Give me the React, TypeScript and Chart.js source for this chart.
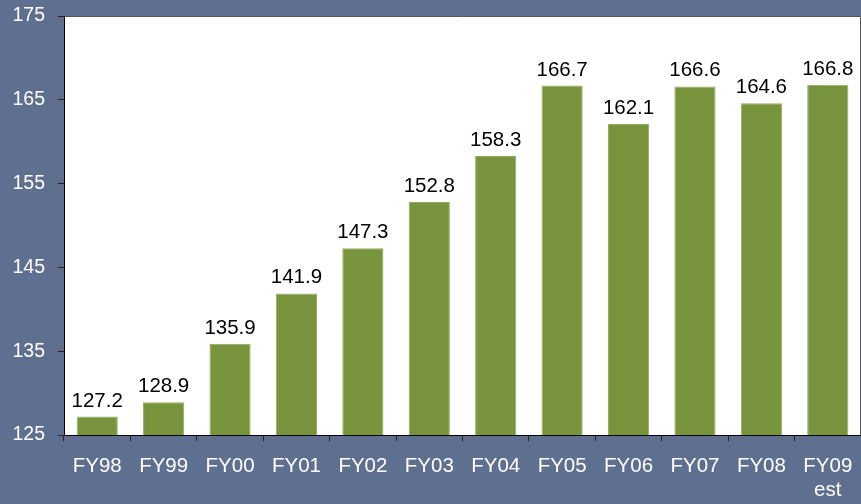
import React, { useEffect, useRef } from "react";
import { Chart, registerables } from "chart.js";

Chart.register(...registerables);

const categories: (string | string[])[] = ["FY98", "FY99", "FY00", "FY01", "FY02", "FY03", "FY04", "FY05", "FY06", "FY07", "FY08", ["FY09", "est"]];
const values: number[] = [127.2, 128.9, 135.9, 141.9, 147.3, 152.8, 158.3, 166.7, 162.1, 166.6, 164.6, 166.8];
const yTicks: number[] = [125, 135, 145, 155, 165, 175];

const BG = "#5F6F8F";

const bgPlugin = {
  id: "bgPlugin",
  beforeDraw(chart: any) {
    const { ctx, width, height, chartArea } = chart;
    ctx.save();
    ctx.fillStyle = BG;
    ctx.fillRect(0, 0, width, height);
    ctx.fillStyle = "#FFFFFF";
    ctx.fillRect(chartArea.left, chartArea.top, chartArea.right - chartArea.left, chartArea.bottom - chartArea.top);
    ctx.strokeStyle = "#555555";
    ctx.lineWidth = 1;
    ctx.beginPath();
    ctx.moveTo(chartArea.left, chartArea.top + 0.5);
    ctx.lineTo(chartArea.right - 0.5, chartArea.top + 0.5);
    ctx.lineTo(chartArea.right - 0.5, chartArea.bottom);
    ctx.stroke();
    ctx.restore();
  },
};

const labelPlugin = {
  id: "labelPlugin",
  afterDatasetsDraw(chart: any) {
    const { ctx } = chart;
    const meta = chart.getDatasetMeta(0);
    ctx.save();
    ctx.fillStyle = "#000000";
    ctx.font = "20.5px Arial, 'Liberation Sans', sans-serif";
    ctx.textAlign = "center";
    ctx.textBaseline = "alphabetic";
    meta.data.forEach((el: any, i: number) => {
      ctx.fillText(values[i].toFixed(1), el.x, el.y - 10);
    });
    ctx.restore();
  },
};

export default function App() {
  const ref = useRef<HTMLCanvasElement | null>(null);
  useEffect(() => {
    if (!ref.current) return;
    const chart = new Chart(ref.current, {
      type: "bar",
      data: {
        labels: categories as any,
        datasets: [
          {
            data: values,
            backgroundColor: "#77933C",
            borderColor: "#93AC62",
            borderWidth: 1,
            barPercentage: 0.62,
            categoryPercentage: 1,
          },
        ],
      },
      options: {
        responsive: false,
        animation: false,
        layout: { padding: { top: 16, right: 0, left: 0, bottom: 0 } },
        plugins: { legend: { display: false }, tooltip: { enabled: false } },
        scales: {
          x: {
            grid: { drawOnChartArea: false, drawTicks: true, tickLength: 6, color: "#222222" },
            border: { display: true, color: "#000000", width: 1 },
            ticks: {
              color: "#FFFFFF",
              font: { family: "Arial, 'Liberation Sans', sans-serif", size: 20.5, lineHeight: 1.15 },
              padding: 14,
              maxRotation: 0,
              autoSkip: false,
            },
            afterFit(scale: any) {
              scale.height = 69;
              scale.paddingLeft = 0;
              scale.paddingRight = 0;
            },
          },
          y: {
            min: 125,
            max: 175,
            afterBuildTicks(scale: any) {
              scale.ticks = yTicks.map((v) => ({ value: v }));
            },
            grid: { drawOnChartArea: false, drawTicks: true, tickLength: 6, color: "#222222" },
            border: { display: true, color: "#000000", width: 1 },
            ticks: {
              color: "#FFFFFF",
              font: { family: "Arial, 'Liberation Sans', sans-serif", size: 19.5 },
              padding: 13,
            },
            afterFit(scale: any) {
              scale.width = 64;
              scale.paddingTop = 0;
              scale.paddingBottom = 0;
            },
          },
        },
      },
      plugins: [bgPlugin, labelPlugin],
    });
    return () => chart.destroy();
  }, []);
  return (
    <div style={{ position: "fixed", left: 0, top: 0, width: 861, height: 504 }}>
      <canvas ref={ref} width={861} height={504} style={{ display: "block", width: 861, height: 504 }} />
    </div>
  );
}
